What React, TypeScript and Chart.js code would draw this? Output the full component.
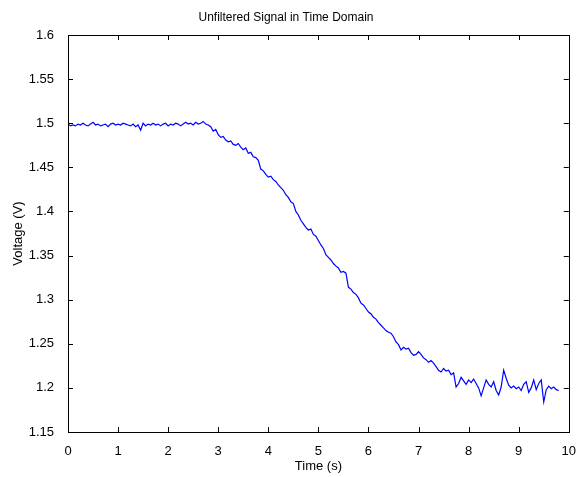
import React, { useEffect, useRef } from "react";
import { Chart, registerables } from "chart.js";

Chart.register(...registerables);

const TITLE = "Unfiltered Signal in Time Domain";
const X_LABEL = "Time (s)";
const Y_LABEL = "Voltage (V)";
const X_MIN = 0;
const X_MAX = 10;
const X_STEP = 1;
const Y_MIN = 1.15;
const Y_MAX = 1.6;
const Y_STEP = 0.05;
const T_START = 0;
const T_STEP = 0.05;

const voltage: number[] = [
  1.499, 1.497, 1.498, 1.497, 1.499, 1.498, 1.5, 1.498, 1.497, 1.499,
  1.501, 1.498, 1.499, 1.497, 1.498, 1.499, 1.496, 1.499, 1.5, 1.498,
  1.499, 1.498, 1.5, 1.499, 1.498, 1.497, 1.499, 1.496, 1.498, 1.492,
  1.5, 1.497, 1.499, 1.498, 1.5, 1.498, 1.499, 1.497, 1.499, 1.5,
  1.497, 1.499, 1.498, 1.5, 1.499, 1.497, 1.499, 1.501, 1.499, 1.5,
  1.498, 1.501, 1.499, 1.5, 1.502, 1.499, 1.498, 1.496, 1.491, 1.493,
  1.487, 1.484, 1.485, 1.481, 1.479, 1.48, 1.476, 1.475, 1.477, 1.473,
  1.47, 1.472, 1.466, 1.467, 1.462, 1.461, 1.458, 1.448, 1.446, 1.442,
  1.439, 1.44, 1.436, 1.434, 1.43, 1.427, 1.424, 1.419, 1.416, 1.411,
  1.409, 1.4, 1.396, 1.39, 1.386, 1.382, 1.379, 1.38, 1.374, 1.372,
  1.367, 1.362, 1.358, 1.351, 1.348, 1.345, 1.341, 1.338, 1.336, 1.331,
  1.332, 1.33, 1.314, 1.312, 1.308, 1.306, 1.302, 1.296, 1.294, 1.29,
  1.286, 1.284, 1.28, 1.278, 1.274, 1.271, 1.268, 1.265, 1.263, 1.262,
  1.258, 1.252, 1.249, 1.243, 1.246, 1.244, 1.245, 1.24, 1.237, 1.238,
  1.241, 1.238, 1.234, 1.232, 1.229, 1.231, 1.228, 1.224, 1.22, 1.218,
  1.222, 1.219, 1.22, 1.215, 1.217, 1.201, 1.205, 1.212, 1.208, 1.204,
  1.209, 1.206, 1.21, 1.205, 1.2, 1.191, 1.2, 1.209, 1.204, 1.201,
  1.207, 1.197, 1.192, 1.201, 1.22, 1.211, 1.203, 1.2, 1.202, 1.199,
  1.201, 1.197, 1.204, 1.207, 1.195, 1.2, 1.209, 1.198, 1.205, 1.209,
  1.184, 1.198, 1.202, 1.199, 1.201, 1.198, 1.197,
];

const FONT = "'Liberation Sans', Arial, sans-serif";

const boxTicksPlugin = {
  id: "boxTicks",
  afterDraw(chart: any) {
    const { ctx, chartArea } = chart;
    const xs = chart.scales.x;
    const ys = chart.scales.y;
    const { left, right, top, bottom } = chartArea;
    const len = 5;
    ctx.save();
    ctx.strokeStyle = "#000";
    ctx.lineWidth = 1;
    ctx.beginPath();
    xs.ticks.forEach((t: any) => {
      const px = Math.round(xs.getPixelForValue(t.value)) + 0.5;
      ctx.moveTo(px, bottom);
      ctx.lineTo(px, bottom - len);
      ctx.moveTo(px, top);
      ctx.lineTo(px, top + len);
    });
    ys.ticks.forEach((t: any) => {
      const py = Math.round(ys.getPixelForValue(t.value)) + 0.5;
      ctx.moveTo(left, py);
      ctx.lineTo(left + len, py);
      ctx.moveTo(right, py);
      ctx.lineTo(right - len, py);
    });
    ctx.stroke();
    ctx.strokeRect(
      Math.round(left) + 0.5,
      Math.round(top) + 0.5,
      Math.round(right - left),
      Math.round(bottom - top)
    );
    ctx.restore();
  },
};

export default function App() {
  const ref = useRef<HTMLCanvasElement | null>(null);

  useEffect(() => {
    if (!ref.current) return;
    const points = voltage.map((v, i) => ({
      x: +(T_START + i * T_STEP).toFixed(2),
      y: v,
    }));
    const chart = new Chart(ref.current, {
      type: "line",
      data: {
        datasets: [
          {
            data: points,
            borderColor: "#0000ff",
            borderWidth: 1.2,
            pointRadius: 0,
            tension: 0,
            fill: false,
          },
        ],
      },
      options: {
        animation: false,
        responsive: false,
        maintainAspectRatio: false,
        layout: { padding: { left: 0, right: 8, top: 0, bottom: 0 } },
        plugins: {
          legend: { display: false },
          tooltip: { enabled: false },
          title: {
            display: true,
            text: TITLE,
            color: "#000",
            font: { family: FONT, size: 12, weight: "normal" },
            padding: { top: 10, bottom: 10.6 },
          },
        },
        scales: {
          x: {
            type: "linear",
            min: X_MIN,
            max: X_MAX,
            grid: { display: false },
            border: { display: false },
            ticks: {
              stepSize: X_STEP,
              color: "#000",
              padding: 4,
              maxRotation: 0,
              font: { family: FONT, size: 13 },
              callback: (v: any) => String(v),
            },
            title: {
              display: true,
              text: X_LABEL,
              color: "#000",
              font: { family: FONT, size: 13 },
              padding: { top: 2, bottom: 3 },
            },
            afterFit: (s: any) => {
              s.height = 45;
            },
          },
          y: {
            type: "linear",
            min: Y_MIN,
            max: Y_MAX,
            grid: { display: false },
            border: { display: false },
            ticks: {
              stepSize: Y_STEP,
              color: "#000",
              padding: 6,
              font: { family: FONT, size: 13 },
              callback: (v: any) => String(+Number(v).toFixed(2)),
            },
            title: {
              display: true,
              text: Y_LABEL,
              color: "#000",
              font: { family: FONT, size: 13 },
              padding: { top: 11, bottom: 2 },
            },
            afterFit: (s: any) => {
              s.width = 68;
            },
          },
        },
      },
      plugins: [boxTicksPlugin],
    });
    return () => chart.destroy();
  }, []);

  return (
    <div style={{ position: "fixed", left: 0, top: 0, width: 580, height: 477, background: "#fff" }}>
      <canvas ref={ref} width={580} height={477} style={{ width: 580, height: 477 }} />
    </div>
  );
}
